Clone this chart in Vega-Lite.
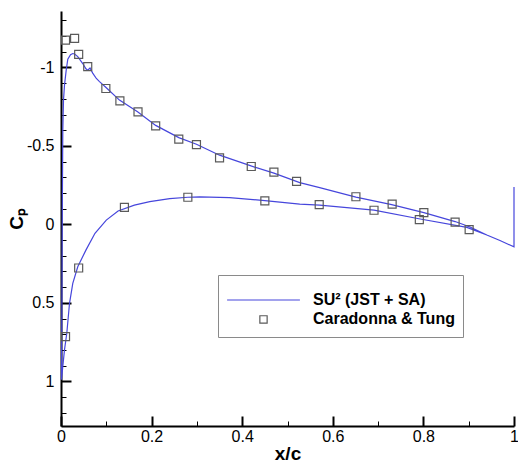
{
  "$schema": "https://vega.github.io/schema/vega-lite/v6.json",
  "width": 453,
  "height": 415,
  "autosize": "none",
  "padding": {"left": 61, "top": 11, "right": 4, "bottom": 40},
  "background": "white",
  "config": {
    "view": {"stroke": null},
    "font": "Liberation Sans",
    "axis": {
      "grid": false,
      "domainColor": "black",
      "domainWidth": 2,
      "tickColor": "black",
      "labelFont": "Liberation Sans",
      "labelFontSize": 16,
      "labelColor": "black",
      "titleFont": "Liberation Sans",
      "titleFontSize": 19,
      "titleFontWeight": "bold",
      "titleColor": "black"
    }
  },
  "datasets": {
    "line": [
      {"i": 1, "x": 1.0, "cp": -0.239, "s": "SU² (JST + SA)"},
      {"i": 2, "x": 1.0, "cp": 0.143, "s": "SU² (JST + SA)"},
      {"i": 3, "x": 0.969, "cp": 0.103, "s": "SU² (JST + SA)"},
      {"i": 4, "x": 0.94, "cp": 0.068, "s": "SU² (JST + SA)"},
      {"i": 5, "x": 0.903, "cp": 0.017, "s": "SU² (JST + SA)"},
      {"i": 6, "x": 0.87, "cp": -0.018, "s": "SU² (JST + SA)"},
      {"i": 7, "x": 0.801, "cp": -0.075, "s": "SU² (JST + SA)"},
      {"i": 8, "x": 0.73, "cp": -0.126, "s": "SU² (JST + SA)"},
      {"i": 9, "x": 0.651, "cp": -0.174, "s": "SU² (JST + SA)"},
      {"i": 10, "x": 0.571, "cp": -0.234, "s": "SU² (JST + SA)"},
      {"i": 11, "x": 0.527, "cp": -0.266, "s": "SU² (JST + SA)"},
      {"i": 12, "x": 0.47, "cp": -0.327, "s": "SU² (JST + SA)"},
      {"i": 13, "x": 0.421, "cp": -0.371, "s": "SU² (JST + SA)"},
      {"i": 14, "x": 0.35, "cp": -0.441, "s": "SU² (JST + SA)"},
      {"i": 15, "x": 0.299, "cp": -0.511, "s": "SU² (JST + SA)"},
      {"i": 16, "x": 0.26, "cp": -0.553, "s": "SU² (JST + SA)"},
      {"i": 17, "x": 0.209, "cp": -0.631, "s": "SU² (JST + SA)"},
      {"i": 18, "x": 0.169, "cp": -0.718, "s": "SU² (JST + SA)"},
      {"i": 19, "x": 0.129, "cp": -0.792, "s": "SU² (JST + SA)"},
      {"i": 20, "x": 0.1, "cp": -0.871, "s": "SU² (JST + SA)"},
      {"i": 21, "x": 0.085, "cp": -0.91, "s": "SU² (JST + SA)"},
      {"i": 22, "x": 0.078, "cp": -0.93, "s": "SU² (JST + SA)"},
      {"i": 23, "x": 0.07, "cp": -0.964, "s": "SU² (JST + SA)"},
      {"i": 24, "x": 0.064, "cp": -0.997, "s": "SU² (JST + SA)"},
      {"i": 25, "x": 0.059, "cp": -0.983, "s": "SU² (JST + SA)"},
      {"i": 26, "x": 0.055, "cp": -0.992, "s": "SU² (JST + SA)"},
      {"i": 27, "x": 0.048, "cp": -1.025, "s": "SU² (JST + SA)"},
      {"i": 28, "x": 0.037, "cp": -1.069, "s": "SU² (JST + SA)"},
      {"i": 29, "x": 0.03, "cp": -1.086, "s": "SU² (JST + SA)"},
      {"i": 30, "x": 0.026, "cp": -1.089, "s": "SU² (JST + SA)"},
      {"i": 31, "x": 0.021, "cp": -1.082, "s": "SU² (JST + SA)"},
      {"i": 32, "x": 0.015, "cp": -1.053, "s": "SU² (JST + SA)"},
      {"i": 33, "x": 0.0115, "cp": -0.983, "s": "SU² (JST + SA)"},
      {"i": 34, "x": 0.0077, "cp": -0.887, "s": "SU² (JST + SA)"},
      {"i": 35, "x": 0.0055, "cp": -0.792, "s": "SU² (JST + SA)"},
      {"i": 36, "x": 0.004, "cp": -0.601, "s": "SU² (JST + SA)"},
      {"i": 37, "x": 0.003, "cp": -0.155, "s": "SU² (JST + SA)"},
      {"i": 38, "x": 0.002, "cp": 0.482, "s": "SU² (JST + SA)"},
      {"i": 39, "x": 0.001, "cp": 0.99, "s": "SU² (JST + SA)"},
      {"i": 40, "x": 0.0077, "cp": 0.8, "s": "SU² (JST + SA)"},
      {"i": 41, "x": 0.0128, "cp": 0.694, "s": "SU² (JST + SA)"},
      {"i": 42, "x": 0.0188, "cp": 0.503, "s": "SU² (JST + SA)"},
      {"i": 43, "x": 0.026, "cp": 0.376, "s": "SU² (JST + SA)"},
      {"i": 44, "x": 0.037, "cp": 0.27, "s": "SU² (JST + SA)"},
      {"i": 45, "x": 0.055, "cp": 0.164, "s": "SU² (JST + SA)"},
      {"i": 46, "x": 0.075, "cp": 0.057, "s": "SU² (JST + SA)"},
      {"i": 47, "x": 0.1, "cp": -0.027, "s": "SU² (JST + SA)"},
      {"i": 48, "x": 0.126, "cp": -0.085, "s": "SU² (JST + SA)"},
      {"i": 49, "x": 0.162, "cp": -0.123, "s": "SU² (JST + SA)"},
      {"i": 50, "x": 0.196, "cp": -0.145, "s": "SU² (JST + SA)"},
      {"i": 51, "x": 0.24, "cp": -0.164, "s": "SU² (JST + SA)"},
      {"i": 52, "x": 0.28, "cp": -0.173, "s": "SU² (JST + SA)"},
      {"i": 53, "x": 0.306, "cp": -0.175, "s": "SU² (JST + SA)"},
      {"i": 54, "x": 0.372, "cp": -0.171, "s": "SU² (JST + SA)"},
      {"i": 55, "x": 0.45, "cp": -0.152, "s": "SU² (JST + SA)"},
      {"i": 56, "x": 0.527, "cp": -0.129, "s": "SU² (JST + SA)"},
      {"i": 57, "x": 0.571, "cp": -0.123, "s": "SU² (JST + SA)"},
      {"i": 58, "x": 0.691, "cp": -0.091, "s": "SU² (JST + SA)"},
      {"i": 59, "x": 0.79, "cp": -0.036, "s": "SU² (JST + SA)"},
      {"i": 60, "x": 0.896, "cp": 0.019, "s": "SU² (JST + SA)"},
      {"i": 61, "x": 0.94, "cp": 0.068, "s": "SU² (JST + SA)"},
      {"i": 62, "x": 0.969, "cp": 0.103, "s": "SU² (JST + SA)"},
      {"i": 63, "x": 1.0, "cp": 0.143, "s": "SU² (JST + SA)"}
    ],
    "exp": [
      {"x": 0.01, "cp": -1.174},
      {"x": 0.03, "cp": -1.185},
      {"x": 0.039, "cp": -1.083},
      {"x": 0.059, "cp": -1.006},
      {"x": 0.099, "cp": -0.866},
      {"x": 0.13, "cp": -0.787},
      {"x": 0.17, "cp": -0.717},
      {"x": 0.209, "cp": -0.628},
      {"x": 0.26, "cp": -0.544},
      {"x": 0.299, "cp": -0.508},
      {"x": 0.35, "cp": -0.424},
      {"x": 0.42, "cp": -0.369},
      {"x": 0.47, "cp": -0.333},
      {"x": 0.52, "cp": -0.274},
      {"x": 0.651, "cp": -0.176},
      {"x": 0.731, "cp": -0.129},
      {"x": 0.801, "cp": -0.075},
      {"x": 0.01, "cp": 0.716},
      {"x": 0.039, "cp": 0.278},
      {"x": 0.14, "cp": -0.108},
      {"x": 0.28, "cp": -0.173},
      {"x": 0.45, "cp": -0.15},
      {"x": 0.57, "cp": -0.126},
      {"x": 0.691, "cp": -0.09},
      {"x": 0.791, "cp": -0.03},
      {"x": 0.87, "cp": -0.015},
      {"x": 0.901, "cp": 0.034}
    ]
  },
  "layer": [
    {
      "data": {"name": "line"},
      "mark": {"type": "line", "strokeWidth": 1.2, "clip": false},
      "encoding": {
        "x": {
          "field": "x", "type": "quantitative",
          "scale": {"domain": [0, 1], "nice": false, "zero": false},
          "title": "x/c",
          "axis": {
            "values": [0, 0.1, 0.2, 0.3, 0.4, 0.5, 0.6, 0.7, 0.8, 0.9, 1],
            "tickCount": 200,
            "labelExpr": "abs(datum.value*5 - round(datum.value*5)) < 0.001 ? toString(round(datum.value*10)/10) : ''",
            "tickSize": {"condition": {"test": "abs(datum.value*5 - round(datum.value*5)) < 0.001", "value": -10}, "value": -5},
            "tickWidth": {"condition": {"test": "abs(datum.value*5 - round(datum.value*5)) < 0.001", "value": 2}, "value": 1},
            "labelPadding": 12,
            "labelFlush": false,
            "labelOverlap": false,
            "titlePadding": -5
          }
        },
        "y": {
          "field": "cp", "type": "quantitative",
          "scale": {"domain": [-1.36, 1.285], "reverse": true, "nice": false, "zero": false},
          "title": "Cₚ",
          "axis": {
            "values": [-1.3, -1.2, -1.1, -1, -0.9, -0.8, -0.7, -0.6, -0.5, -0.4, -0.3, -0.2, -0.1, 0, 0.1, 0.2, 0.3, 0.4, 0.5, 0.6, 0.7, 0.8, 0.9, 1, 1.1, 1.2],
            "tickCount": 200,
            "labelExpr": "abs(datum.value*2 - round(datum.value*2)) < 0.001 ? toString(round(datum.value*10)/10) : ''",
            "tickSize": {"condition": {"test": "abs(datum.value*2 - round(datum.value*2)) < 0.001", "value": -10}, "value": -5},
            "tickWidth": {"condition": {"test": "abs(datum.value*2 - round(datum.value*2)) < 0.001", "value": 2}, "value": 1},
            "labelPadding": 17,
            "labelFlush": false,
            "labelOverlap": false,
            "titlePadding": 0
          }
        },
        "order": {"field": "i", "type": "quantitative"},
        "color": {
          "field": "s", "type": "nominal",
          "scale": {"domain": ["SU² (JST + SA)", "Caradonna & Tung"], "range": ["#4646dc", "#5a5a5a"]},
          "legend": {
            "orient": "none",
            "legendX": 157,
            "legendY": 264,
            "title": " ",
            "titleFontSize": 7,
            "titlePadding": 0.5,
            "padding": 8,
            "strokeColor": "#8a8a8a",
            "fillColor": "white",
            "symbolSize": 5300,
            "symbolStrokeWidth": 1.2,
            "symbolType": "stroke",
            "clipHeight": 19,
            "rowPadding": 0.4,
            "labelOffset": 12,
            "labelFont": "Liberation Sans",
            "labelFontSize": 16,
            "labelFontWeight": "bold",
            "labelColor": "black",
            "labelLimit": 300,
            "encode": {
              "symbols": {
                "update": {
                  "shape": [{"test": "datum.value === 'Caradonna & Tung'", "value": "M-0.1,-0.1H0.1V0.1H-0.1Z"}, {"value": "stroke"}],
                  "stroke": [{"test": "datum.value === 'Caradonna & Tung'", "value": "#5a5a5a"}, {"value": "#4646dc"}],
                  "fill": {"value": "transparent"},
                  "strokeWidth": {"value": 1.2}
                }
              }
            }
          }
        }
      }
    },
    {
      "data": {"name": "exp"},
      "mark": {"type": "point", "shape": "square", "filled": false, "size": 64, "strokeWidth": 1.2, "opacity": 1, "color": "#5a5a5a"},
      "encoding": {
        "x": {"field": "x", "type": "quantitative"},
        "y": {"field": "cp", "type": "quantitative"}
      }
    }
  ]
}
